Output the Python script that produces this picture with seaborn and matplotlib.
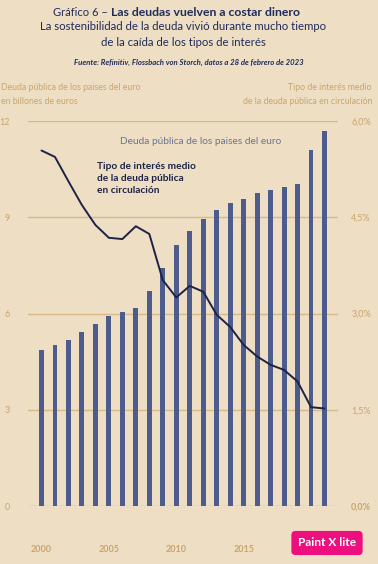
import matplotlib
matplotlib.use("Agg")
import matplotlib.pyplot as plt
import seaborn as sns
import pandas as pd

# euro area government debt (trillion EUR) and average interest rate on outstanding debt (%)
years = list(range(2000, 2022))
debt = [4.86, 5.01, 5.17, 5.43, 5.66, 5.93, 6.06, 6.17, 6.70, 7.42, 8.15, 8.56,
        8.94, 9.23, 9.44, 9.57, 9.75, 9.84, 9.94, 10.04, 11.10, 11.70]
rate = [5.54, 5.44, 5.06, 4.69, 4.38, 4.18, 4.16, 4.36, 4.24, 3.52, 3.25, 3.43,
        3.34, 2.98, 2.79, 2.51, 2.33, 2.20, 2.12, 1.94, 1.54, 1.52]
left_ticks = [0, 3, 6, 9, 12]
right_ticks = [0, 1.5, 3.0, 4.5, 6.0]
right_labels = ["0,0%", "1,5%", "3,0%", "4,5%", "6,0%"]
year_labels = [2000, 2005, 2010, 2015]

BG = "#EEDFC4"
TAN = "#C9A46A"
GRID = "#D7B987"
BAR = "#4D5C8C"
NAVY = "#1D2346"
TITLE = "#1F2B5A"

W, H = 378, 564
sns.set_style("white", {"axes.facecolor": BG, "figure.facecolor": BG})
plt.rcParams["font.family"] = ["Lato", "DejaVu Sans"]

df = pd.DataFrame({"year": years, "debt": debt, "rate": rate})

fig = plt.figure(figsize=(W / 100, H / 100), dpi=100)
ax = fig.add_axes([28 / W, 1 - 506 / H, 310 / W, 385 / H])

sns.barplot(data=df, x="year", y="debt", native_scale=True, width=0.36,
            color=BAR, saturation=1, linewidth=0, ax=ax, zorder=2)
ax.set_xlim(1999, 2022)
ax.set_ylim(0, 12)
ax.set_yticks(left_ticks)
ax.set_yticklabels([str(t) for t in left_ticks])
ax.yaxis.grid(True, color=GRID, linewidth=1.0)
ax.set_axisbelow(True)
ax.set_xlabel("")
ax.set_ylabel("")
for s in ax.spines.values():
    s.set_visible(False)
ax.spines["bottom"].set_position(("outward", 11))
ax.tick_params(axis="y", length=0, pad=13, labelsize=6.5, labelcolor=TAN)
ax.set_xticks(year_labels + [2020])
ax.set_xticklabels([str(y) for y in year_labels] + [""])
ax.set_xticks(years, minor=True)
ax.tick_params(axis="x", which="major", direction="out", length=7, width=0.8,
               color=GRID, pad=10, labelsize=6.5, labelcolor=TAN)
ax.tick_params(axis="x", which="minor", direction="out", length=4, width=0.6,
               color=GRID)
for lab in ax.get_xticklabels():
    lab.set_fontweight("bold")

ax2 = ax.twinx()
sns.lineplot(data=df, x="year", y="rate", color=NAVY, linewidth=1.4, ax=ax2)
ax2.set_ylim(0, 6)
ax2.set_yticks(right_ticks)
ax2.set_yticklabels(right_labels)
ax2.set_xlim(1999, 2022)
ax2.set_ylabel("")
ax2.grid(False)
for s in ax2.spines.values():
    s.set_visible(False)
ax2.tick_params(axis="y", length=0, pad=9.5, labelsize=6.5, labelcolor=TAN)
ax2.get_yticklabels()[0].set_fontweight("bold")

# in-chart annotations
ax.text(2005.8, 11.35, "Deuda pública de los paises del euro", fontsize=7.3,
        color="#6B7393", va="center", ha="left")
ax2.text(2004.1, 5.36, "Tipo de interés medio\nde la deuda pública\nen circulación",
         fontsize=7.3, color=NAVY, fontweight="bold", va="top", ha="left",
         linespacing=1.45)


def ftext(x, y, s, **kw):
    fig.text(x / W, 1 - y / H, s, va="center", **kw)


ftext(108, 12, "Gráfico 6 –", ha="right", fontsize=8.0, color=TITLE)
ftext(111, 12, "Las deudas vuelven a costar dinero", ha="left", fontsize=8.8,
      color=TITLE, fontweight="bold")
ftext(W / 2 - 6, 27, "La sostenibilidad de la deuda vivió durante mucho tiempo",
      ha="center", fontsize=8.2, color=TITLE)
ftext(W / 2 - 6, 42, "de la caída de los tipos de interés", ha="center",
      fontsize=8.2, color=TITLE)
ftext(W / 2, 62, "Fuente: Refinitiv, Flossbach von Storch, datos a 28 de febrero de 2023",
      ha="center", fontsize=5.6, color=TITLE, style="italic", fontweight="bold")
ftext(1, 87, "Deuda pública de los paises del euro", ha="left", fontsize=6.3, color=TAN)
ftext(1, 101, "en billones de euros", ha="left", fontsize=6.3, color=TAN)
ftext(372, 87, "Tipo de interés medio", ha="right", fontsize=6.3, color=TAN)
ftext(372, 101, "de la deuda pública en circulación", ha="right", fontsize=6.3, color=TAN)

# screenshot watermark badge
ftext(327, 543, "Paint X lite", ha="center", fontsize=8.6, color="white",
      fontweight="bold",
      bbox=dict(boxstyle="round,pad=0.55,rounding_size=0.35", fc="#EE0F7F", ec="none"))

fig.savefig("out.png", dpi=100, facecolor=BG)
